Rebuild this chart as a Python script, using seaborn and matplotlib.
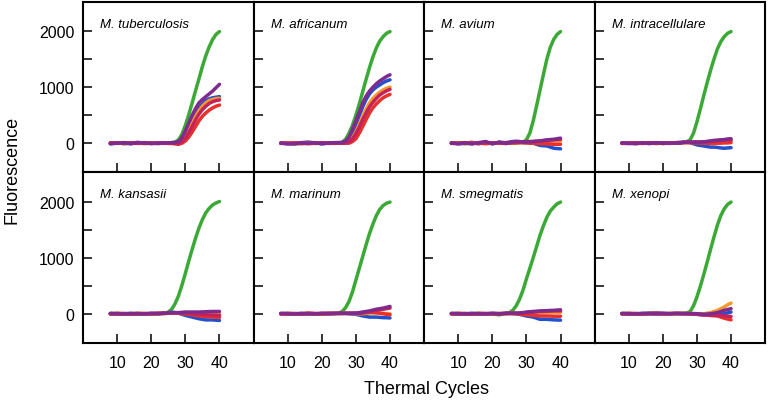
import matplotlib
matplotlib.use("Agg")
import matplotlib.pyplot as plt
import seaborn as sns

# cycle numbers where fluorescence was read (every cycle once the curves start moving)
cycles = [8, 10, 12, 14, 16, 18, 20, 22, 24,
          25, 26, 27, 28, 29, 30, 31, 32, 33, 34, 35, 36, 37, 38, 39, 40]

# series order in every panel: green (control), blue, orange, red, crimson, purple
series_colors = ["#3ba935", "#2550cc", "#f59a2c", "#e8302c", "#c4235a", "#7f2b8e"]

tuberculosis = [
    [0, 10, -10, 5, 0, 10, -5, 0, 5,
     5, 10, 20, 60, 160, 320, 510, 720, 940, 1150, 1370, 1560, 1720, 1850, 1940, 1990],
    [-10, 5, 0, -10, 10, 0, 5, -5, 0,
     0, 0, -5, -15, 40, 150, 270, 400, 520, 620, 700, 760, 790, 810, 820, 830],
    [5, -5, 10, 0, 5, -10, 0, 5, -5,
     0, 0, 5, 10, 50, 120, 240, 360, 480, 580, 660, 720, 760, 780, 795, 800],
    [0, 5, -5, 10, -5, 5, 0, -5, 5,
     -5, -5, -10, -20, 0, 40, 110, 200, 300, 400, 480, 540, 590, 630, 660, 680],
    [5, 0, 5, -5, 0, 10, -5, 5, 0,
     5, 5, 0, 0, 30, 90, 190, 300, 420, 520, 600, 660, 710, 740, 760, 770],
    [-10, 0, 10, -5, 15, 0, -5, 0, 5,
     5, 10, 15, 30, 100, 220, 360, 500, 620, 720, 780, 830, 880, 930, 990, 1050],
]
africanum = [
    [0, 5, -10, 0, 10, -5, 0, 5, 0,
     5, 20, 70, 180, 320, 500, 700, 920, 1140, 1350, 1540, 1700, 1820, 1900, 1960, 1990],
    [5, -10, 0, 10, 20, 5, -10, 0, 10,
     10, 5, 20, 60, 180, 330, 490, 650, 780, 880, 950, 1000, 1040, 1080, 1110, 1130],
    [0, 5, -5, 0, 10, -5, 5, 0, -5,
     0, 5, 10, 30, 100, 200, 340, 480, 610, 720, 800, 860, 910, 950, 980, 1000],
    [-5, 0, 5, -10, 0, 5, -5, 5, 0,
     0, 0, 0, 0, 30, 80, 180, 300, 420, 540, 630, 700, 760, 810, 845, 870],
    [5, -5, 0, 5, -10, 0, 10, -5, 5,
     5, 0, 5, 20, 80, 170, 290, 420, 540, 650, 730, 800, 860, 900, 935, 960],
    [0, -10, -15, 5, 0, 10, -10, 5, 10,
     10, 15, 40, 110, 250, 400, 560, 720, 840, 930, 1000, 1060, 1110, 1150, 1190, 1220],
]
avium = [
    [0, 10, -10, 5, 0, 10, -5, 5, 10,
     5, 5, 5, 10, 20, 60, 180, 400, 670, 950, 1230, 1500, 1710, 1850, 1940, 1990],
    [10, -10, 0, 15, -5, 20, -10, 15, 10,
     20, 30, 25, 20, 15, 10, 5, 0, -20, -40, -45, -50, -70, -90, -95, -100],
    [0, 5, -5, 10, 0, 5, -5, 10, 5,
     10, 10, 15, 15, 20, 20, 20, 20, 25, 25, 30, 30, 35, 40, 40, 40],
    [-5, 0, 10, -5, 5, -10, 5, 0, -5,
     0, 5, 5, 10, 5, 5, 0, 0, -5, -10, -10, -10, -15, -20, -20, -20],
    [5, -5, 0, 5, -10, 15, 0, 10, 5,
     10, 15, 15, 20, 25, 30, 30, 30, 35, 40, 45, 50, 55, 60, 65, 70],
    [0, -10, 5, -15, 10, 30, -10, 20, -5,
     10, 25, 35, 30, 20, 20, 25, 30, 35, 40, 50, 60, 65, 70, 80, 90],
]
intracellulare = [
    [0, 5, -5, 5, 0, 5, -5, 0, 5,
     5, 10, 25, 60, 180, 380, 610, 850, 1080, 1300, 1500, 1680, 1810, 1900, 1960, 1990],
    [5, -5, 0, 10, -5, 0, 5, -5, 10,
     15, 20, 15, 10, -10, -30, -40, -50, -60, -70, -70, -75, -85, -90, -85, -80],
    [0, 5, -5, 0, 5, -5, 0, 5, 0,
     5, 10, 10, 15, 15, 20, 20, 20, 25, 25, 30, 30, 30, 35, 40, 40],
    [-5, 0, 5, -5, 0, 5, -5, 0, 5,
     5, 10, 10, 10, 5, 5, 0, 0, 0, -5, -5, 0, 0, 5, 5, 10],
    [0, -5, 5, 0, 10, -5, 5, 0, 10,
     10, 15, 20, 20, 20, 20, 20, 25, 30, 35, 40, 45, 50, 55, 60, 60],
    [5, 0, -10, 5, -5, 10, 0, 5, 0,
     5, 15, 20, 20, 20, 20, 20, 25, 30, 40, 50, 55, 60, 65, 75, 80],
]
kansasii = [
    [0, 5, -5, 0, 5, 0, -5, 5, 10,
     30, 80, 180, 320, 510, 720, 940, 1150, 1350, 1530, 1680, 1800, 1880, 1940, 1975, 2000],
    [5, -5, 0, 5, -5, 0, 5, 0, 10,
     20, 25, 20, 10, -10, -30, -45, -60, -75, -90, -100, -110, -110, -110, -115, -120],
    [0, 5, -5, 0, 5, -5, 0, 5, 5,
     10, 10, 10, 10, 5, 5, 0, 0, -5, -5, -5, -5, 0, 0, 0, 0],
    [-5, 0, 5, -5, 0, 5, -5, 0, 5,
     10, 15, 15, 10, 5, 0, -10, -20, -30, -40, -45, -50, -55, -60, -62, -65],
    [0, 5, 0, -5, 5, 0, 5, 10, 5,
     10, 15, 15, 15, 10, 10, 5, 0, -5, -10, -15, -20, -22, -25, -28, -30],
    [5, 0, -5, 5, 0, -5, 5, 0, 10,
     15, 20, 20, 20, 25, 30, 30, 30, 30, 30, 32, 35, 38, 40, 40, 40],
]
marinum = [
    [0, 5, -5, 0, 5, 0, -5, 5, 5,
     15, 40, 110, 220, 390, 600, 810, 1020, 1230, 1430, 1600, 1750, 1860, 1930, 1970, 1990],
    [5, -5, 0, 5, -5, 0, 5, 0, 5,
     5, 5, 5, 0, -5, -10, -25, -40, -50, -60, -60, -60, -65, -70, -72, -75],
    [0, 5, -5, 0, 5, -5, 0, 5, 0,
     5, 5, 5, 5, 5, 5, 0, 0, 5, 10, 10, 10, 8, 5, 2, 0],
    [-5, 0, 5, -5, 10, 5, -5, 0, 5,
     5, 5, 5, 5, 5, 5, 8, 10, 20, 30, 25, 20, 10, 0, -10, -20],
    [0, 5, 0, -5, 5, 0, 5, 10, 5,
     5, 5, 8, 10, 10, 10, 15, 20, 30, 40, 50, 60, 70, 80, 90, 100],
    [5, 0, -5, 5, 0, -5, 5, 0, 5,
     8, 10, 8, 5, 8, 10, 20, 30, 40, 50, 65, 80, 90, 100, 115, 130],
]
smegmatis = [
    [0, 5, -5, 0, 5, 0, -5, -20, 10,
     20, 60, 140, 260, 420, 620, 810, 1000, 1200, 1400, 1570, 1720, 1830, 1900, 1960, 1990],
    [5, -5, 0, 5, -5, 0, 5, 0, 5,
     5, 5, 0, -10, -25, -40, -50, -60, -80, -100, -100, -100, -105, -110, -112, -115],
    [0, 5, -5, 0, 5, -5, 0, 5, 0,
     5, 5, 8, 10, 10, 10, 12, 15, 18, 20, 20, 20, 22, 25, 25, 25],
    [-5, 0, 5, -5, 0, 5, -5, 0, 5,
     2, 0, -5, -10, -15, -20, -25, -30, -35, -40, -40, -40, -42, -45, -45, -45],
    [0, 5, 0, -5, 5, 0, 5, 0, 5,
     8, 10, 10, 10, 15, 20, 25, 30, 35, 40, 42, 45, 48, 50, 50, 50],
    [5, 0, -5, 5, 0, -5, 5, 0, 5,
     8, 10, 10, 10, 20, 30, 35, 40, 45, 50, 52, 55, 58, 60, 65, 70],
]
xenopi = [
    [0, 5, -5, 0, 5, 10, -5, 5, 0,
     0, 5, 15, 40, 140, 300, 490, 700, 920, 1150, 1370, 1580, 1750, 1870, 1950, 1990],
    [5, -5, 0, 5, 10, 20, 5, 0, 5,
     5, 5, 2, 0, -5, -10, -15, -20, -15, -10, -15, -20, -10, 0, 15, 30],
    [0, 5, -5, 0, 5, 10, 0, 5, 0,
     5, 5, 5, 5, 2, 0, 0, 0, 10, 20, 40, 60, 90, 120, 160, 190],
    [-5, 0, 5, -5, 0, 5, -5, 0, 5,
     2, 0, -2, -5, -8, -10, -15, -20, -25, -30, -35, -40, -60, -80, -95, -110],
    [0, 5, 0, -5, 5, 0, 5, 0, 5,
     5, 5, 2, 0, -5, -10, -15, -20, -25, -30, -30, -30, -35, -40, -45, -50],
    [5, 0, -5, 5, 0, -5, 5, 0, 5,
     2, 0, 2, 5, 2, 0, -5, -10, -5, 0, 10, 20, 40, 60, 75, 90],
]

panel_titles = ["M. tuberculosis", "M. africanum", "M. avium", "M. intracellulare",
                "M. kansasii", "M. marinum", "M. smegmatis", "M. xenopi"]
panel_data = [tuberculosis, africanum, avium, intracellulare,
              kansasii, marinum, smegmatis, xenopi]

sns.set_style("white")
plt.rcParams['font.family'] = ['Liberation Sans', 'DejaVu Sans']
plt.rcParams['text.color'] = 'black'

fig, axes = plt.subplots(2, 4, figsize=(7.69, 4.06), dpi=100, sharex=True, sharey=True)
fig.subplots_adjust(left=0.108, right=0.995, top=0.993, bottom=0.153, wspace=0, hspace=0)

for ax, title, data in zip(axes.flat, panel_titles, panel_data):
    for values, color in zip(data, series_colors):
        sns.lineplot(x=cycles, y=values, color=color, linewidth=2.5, ax=ax)
    ax.set_xlim(0, 50)
    ax.set_ylim(-520, 2520)
    ax.set_xticks([10, 20, 30, 40])
    ax.set_yticks([0, 500, 1000, 1500, 2000])
    ax.set_yticklabels(["0", "", "1000", "", "2000"])
    ax.tick_params(direction="in", length=6.5, width=1.1, labelsize=11.5,
                   color="black", labelcolor="black", bottom=True, left=True)
    ax.tick_params(axis="x", pad=9)
    ax.tick_params(axis="y", pad=6)
    for sp in ax.spines.values():
        sp.set_color("black")
        sp.set_linewidth(1.5)
    ax.text(0.1, 0.855, title, transform=ax.transAxes, style="italic",
            fontsize=9.5, ha="left", va="baseline", color="black")
    ax.set_xlabel("")
    ax.set_ylabel("")

fig.text(0.015, 0.5825, "Fluorescence", rotation=90, ha="center", va="center", fontsize=13)
fig.text(0.555, 0.04, "Thermal Cycles", ha="center", va="center", fontsize=13)

fig.savefig("out.png", dpi=100)
